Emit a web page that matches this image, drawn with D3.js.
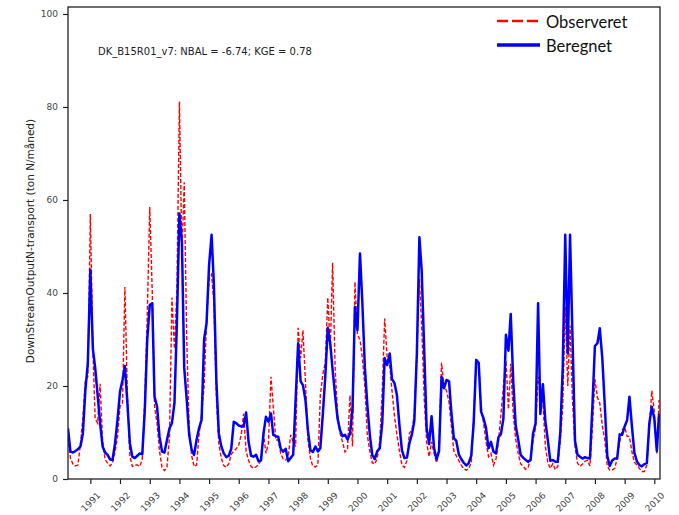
<!DOCTYPE html>
<html>
<head>
<meta charset="utf-8">
<script src="https://cdn.jsdelivr.net/npm/d3@7"></script>
<style>
  body { margin: 0; background: #fff; }
  svg { display: block; }
</style>
</head>
<body>
<div id="chart"></div>
<script>
// monthly series, first value is April 1990
var startMonth = new Date(1990, 3, 1);

var observeret = [
	9.0, 4.5, 3.2, 2.8, 3.0, 7.5, 13.0, 21.3, 22.0, 57.0,
	28.0, 13.0, 12.0, 20.5, 8.0, 4.2, 3.4, 2.8, 3.5, 5.8,
	9.0, 15.6, 16.3, 41.3, 18.0, 5.0, 2.7, 3.0, 3.0, 2.7,
	4.3, 17.0, 35.0, 58.5, 40.0, 15.6, 12.0, 6.0, 2.5, 1.8,
	2.6, 9.0, 39.0, 28.0, 40.6, 81.2, 47.8, 63.8, 30.0, 11.0,
	5.0, 2.7, 3.0, 9.8, 14.0, 20.0, 34.0, 43.0, 44.0, 38.0,
	17.5, 7.5, 4.5, 2.9, 2.5, 3.3, 5.3, 6.0, 6.5, 7.3,
	9.5, 14.0, 6.0, 4.0, 2.7, 2.3, 2.6, 3.2, 4.0, 9.8,
	5.5, 7.7, 22.0, 15.6, 8.4, 8.4, 5.5, 4.3, 4.1, 4.8,
	9.5, 8.0, 7.0, 32.5, 26.0, 32.0, 21.0, 8.5, 4.5, 2.7,
	2.6, 3.0, 18.0, 22.5, 25.0, 39.0, 28.0, 46.5, 24.0, 14.0,
	9.8, 8.0, 5.8, 6.5, 18.0, 7.0, 42.4, 31.0, 30.0, 26.0,
	20.0, 9.5, 6.0, 3.5, 3.2, 4.5, 8.0, 19.0, 34.5, 26.0,
	24.5, 19.0, 13.5, 9.5, 6.0, 3.0, 2.5, 4.0, 9.8, 10.5,
	14.0, 27.0, 43.0, 33.0, 17.5, 8.0, 4.8, 8.0, 5.5, 3.5,
	7.0, 25.0, 20.0, 19.0, 16.5, 11.5, 6.0, 5.0, 4.0, 3.0,
	2.2, 1.9, 2.2, 3.5, 13.0, 25.6, 25.0, 15.8, 12.0, 8.0,
	4.8, 5.5, 3.0, 4.3, 8.0, 14.0, 20.0, 25.5, 15.0, 24.8,
	14.0, 8.5, 5.5, 3.3, 2.7, 2.1, 2.5, 4.5, 8.4, 11.0,
	22.0, 19.5, 16.8, 7.0, 3.5, 2.3, 3.3, 2.0, 2.7, 8.4,
	15.6, 37.0, 20.0, 33.0, 16.5, 7.0, 3.4, 2.7, 3.2, 3.8,
	4.0, 2.8, 11.0, 21.5, 17.5, 16.3, 11.5, 8.5, 2.8, 1.9,
	1.9, 2.3, 4.5, 8.0, 10.5, 11.2, 9.2, 9.1, 5.8, 3.6,
	3.0, 2.3, 1.6, 1.6, 3.0, 11.0, 19.0, 14.5, 5.5, 17.0
];

var beregnet = [
	10.9, 5.9, 5.7, 6.0, 6.4, 7.0, 9.8, 19.2, 24.9, 45.0,
	28.0, 24.0, 18.0, 12.0, 7.0, 5.7, 5.2, 4.2, 4.1, 7.7,
	12.7, 18.8, 21.3, 24.3, 16.3, 7.7, 4.8, 4.5, 5.0, 5.5,
	5.3, 14.8, 29.9, 37.4, 37.8, 17.7, 15.6, 9.1, 5.9, 5.7,
	8.4, 10.9, 12.0, 16.3, 33.5, 57.1, 50.7, 24.0, 17.0, 9.5,
	6.2, 5.2, 8.5, 11.0, 12.7, 30.0, 33.5, 46.0, 52.5, 42.0,
	21.0, 9.8, 7.0, 5.5, 4.7, 5.0, 6.5, 12.3, 12.0, 11.5,
	11.3, 11.3, 14.3, 8.0, 5.0, 4.8, 5.2, 3.8, 4.0, 9.8,
	13.4, 12.3, 14.1, 9.5, 9.2, 9.1, 6.5, 5.9, 6.5, 3.8,
	4.5, 5.2, 17.0, 29.2, 21.0, 20.2, 17.0, 10.5, 6.2, 5.8,
	7.0, 5.9, 6.6, 14.0, 22.0, 32.5, 29.0, 23.5, 18.0, 13.0,
	10.5, 9.2, 9.5, 8.5, 9.8, 15.0, 37.0, 32.0, 48.5, 38.0,
	24.0, 16.0, 9.5, 5.2, 4.3, 6.0, 6.6, 12.0, 26.0, 24.5,
	27.0, 21.5, 20.6, 18.0, 11.5, 6.2, 4.5, 4.6, 7.7, 9.6,
	12.5, 27.0, 52.0, 45.0, 28.0, 11.0, 7.5, 13.5, 6.6, 4.2,
	6.0, 22.0, 19.5, 21.3, 21.0, 14.5, 8.8, 8.2, 5.3, 4.3,
	3.5, 2.9, 3.4, 5.0, 12.0, 25.6, 25.0, 14.5, 13.0, 11.0,
	6.6, 8.0, 5.9, 5.5, 9.0, 9.7, 13.0, 31.0, 27.6, 35.5,
	21.0, 11.5, 8.5, 5.2, 4.6, 4.1, 3.7, 4.1, 9.8, 12.0,
	37.8, 14.0, 20.4, 12.5, 8.3, 3.9, 4.1, 3.7, 3.7, 10.0,
	24.0, 52.5, 27.0, 52.5, 30.0, 8.2, 5.2, 4.8, 4.4, 4.7,
	4.5, 4.4, 15.6, 28.6, 29.2, 32.4, 26.0, 16.0, 5.0, 2.8,
	4.0, 4.4, 4.4, 9.6, 9.5, 11.3, 12.7, 17.7, 11.2, 5.6,
	3.8, 3.0, 2.7, 3.2, 3.4, 12.0, 15.5, 13.0, 6.0, 14.0
];

var yTicks = [0, 20, 40, 60, 80, 100];
var yearTicks = [1991, 1992, 1993, 1994, 1995, 1996, 1997, 1998, 1999, 2000,
	2001, 2002, 2003, 2004, 2005, 2006, 2007, 2008, 2009, 2010];
var seriesNames = ['Observeret', 'Beregnet'];
var infoText = 'DK_B15R01_v7: NBAL = -6.74; KGE = 0.78';
var yLabel = 'DownStreamOutputN-transport (ton N/måned)';

var drawChart = function() {

	var width = 679, height = 515;
	var pLeft = 68, pRight = 660, pTop = 7, pBottom = 479;

	var svg = d3.select('#chart').append('svg')
		.attr('width', width)
		.attr('height', height);

	var x = d3.scaleTime()
		.domain([startMonth, new Date(2010, 2, 12)])
		.range([pLeft, pRight]);

	var y = d3.scaleLinear()
		.domain([0, 101.5])
		.range([pBottom, pTop]);

	var toPoints = function(arr) {
		return arr.map(function(v, i) {
			return { date: d3.timeMonth.offset(startMonth, i), value: v };
		});
	};

	svg.append('defs').append('clipPath')
		.attr('id', 'plotclip')
		.append('rect')
		.attr('x', pLeft).attr('y', pTop)
		.attr('width', pRight - pLeft).attr('height', pBottom - pTop);

	var line = d3.line()
		.x(function(d) { return x(d.date); })
		.y(function(d) { return y(d.value); });

	var plot = svg.append('g').attr('clip-path', 'url(#plotclip)');

	plot.append('path')
		.datum(toPoints(observeret))
		.attr('d', line)
		.attr('fill', 'none')
		.attr('stroke', '#ff0000')
		.attr('stroke-width', 1.4)
		.attr('stroke-dasharray', '4,2');

	plot.append('path')
		.datum(toPoints(beregnet))
		.attr('d', line)
		.attr('fill', 'none')
		.attr('stroke', '#0000ff')
		.attr('stroke-width', 2.5)
		.attr('stroke-linejoin', 'round');

	// axes
	var yAxis = svg.append('g')
		.attr('transform', 'translate(' + pLeft + ',0)')
		.call(d3.axisLeft(y).tickValues(yTicks).tickSize(5).tickPadding(5));

	var xAxis = svg.append('g')
		.attr('transform', 'translate(0,' + pBottom + ')')
		.call(d3.axisBottom(x)
			.tickValues(yearTicks.map(function(yr) { return new Date(yr, 0, 1); }))
			.tickFormat(d3.timeFormat('%Y'))
			.tickSize(5));

	[xAxis, yAxis].forEach(function(ax) {
		ax.select('.domain').remove();
		ax.selectAll('line').attr('stroke', '#222').attr('stroke-width', 1.2);
		ax.selectAll('text')
			.attr('fill', '#444')
			.style('font-family', 'DejaVu Sans, sans-serif')
			.style('font-size', '9px');
	});

	xAxis.selectAll('text')
		.attr('y', null).attr('dy', null)
		.attr('text-anchor', 'middle')
		.attr('dominant-baseline', 'central')
		.attr('transform', 'translate(0,23) rotate(-45)');

	// frame
	svg.append('rect')
		.attr('x', pLeft).attr('y', pTop)
		.attr('width', pRight - pLeft).attr('height', pBottom - pTop)
		.attr('fill', 'none')
		.attr('stroke', '#222')
		.attr('stroke-width', 1.3);

	svg.append('text')
		.attr('x', 98).attr('y', 51)
		.attr('dominant-baseline', 'central')
		.style('font-family', 'DejaVu Sans, sans-serif')
		.style('font-size', '10px')
		.attr('fill', '#222')
		.text(infoText);

	svg.append('text')
		.attr('transform', 'translate(30,241) rotate(-90)')
		.attr('text-anchor', 'middle')
		.attr('dominant-baseline', 'central')
		.style('font-family', 'DejaVu Sans, sans-serif')
		.style('font-size', '10.5px')
		.attr('fill', '#222')
		.text(yLabel);

	// legend
	var legend = svg.append('g').attr('class', 'legend');
	var legendStyles = [
		{ color: '#ff0000', width: 2.4, dash: '11,4' },
		{ color: '#0000ff', width: 3.5, dash: null }
	];
	seriesNames.forEach(function(name, i) {
		var ly = 21 + i * 24;
		legend.append('line')
			.attr('x1', 497).attr('x2', 540)
			.attr('y1', ly).attr('y2', ly)
			.attr('stroke', legendStyles[i].color)
			.attr('stroke-width', legendStyles[i].width)
			.attr('stroke-dasharray', legendStyles[i].dash);
		legend.append('text')
			.attr('x', 546).attr('y', ly + 1)
			.attr('dominant-baseline', 'central')
			.style('font-family', 'Lato, sans-serif')
			.style('font-size', '16.5px')
			.attr('fill', '#111')
			.text(name);
	});
};

drawChart();
</script>
</body>
</html>
